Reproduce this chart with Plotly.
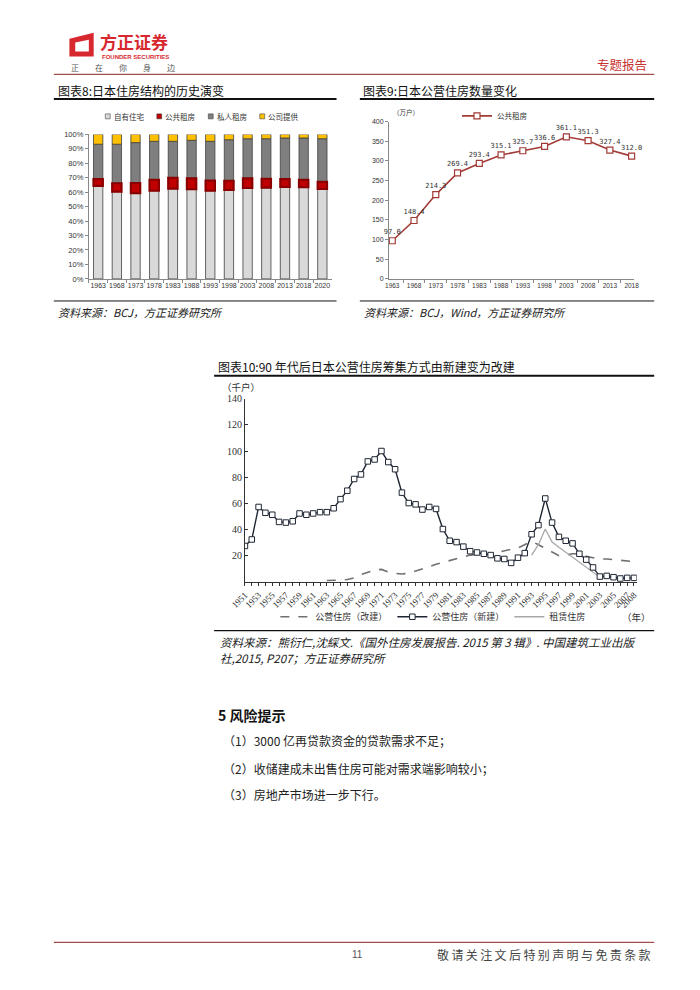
import plotly.graph_objects as go

W, H = 700, 990
def X(px): return px / W
def Y(py): return 1 - py / H

# ---------------- data ----------------
# Chart 8: housing tenure structure (%)
years8 = ['1963', '1968', '1973', '1978', '1983', '1988', '1993', '1998', '2003', '2008', '2013', '2018', '2020']
own8 = [64.4, 60.4, 59.4, 61.0, 62.4, 62.1, 61.0, 61.6, 62.9, 63.1, 63.6, 63.5, 62.2]
public8 = [4.6, 5.8, 6.9, 7.6, 7.6, 7.5, 7.0, 6.3, 6.7, 6.1, 5.4, 5.0, 5.0]
private8 = [24.2, 27.0, 28.0, 26.6, 25.2, 26.3, 27.2, 28.4, 27.4, 27.8, 28.5, 29.0, 29.8]
company8 = [6.8, 6.8, 5.7, 4.8, 4.8, 4.1, 4.8, 3.7, 3.0, 3.0, 2.5, 2.5, 3.0]
names8 = ['自有住宅', '公共租房', '私人租房', '公司提供']
colors8 = ['#d9d9d9', '#c00000', '#7f7f7f', '#ffc000']

# Chart 9: public rental housing stock (10k units)
years9 = ['1963', '1968', '1973', '1978', '1983', '1988', '1993', '1998', '2003', '2008', '2013', '2018']
public9 = [97.0, 148.4, 214.3, 269.4, 293.4, 315.1, 325.7, 336.6, 361.1, 351.3, 327.4, 312.0]

# Chart 10: public housing supply (thousand units)
years_new = list(range(1951, 2009))
new10 = [27, 32, 57, 52.5, 51, 45.5, 45, 46, 52, 51, 52, 53, 53, 56, 63, 69.5, 78.5, 82, 92, 93.5,
         100, 91.5, 86, 68, 60, 59, 55, 57, 55.5, 40, 31, 30, 26.5, 23, 22, 21, 20, 17.5, 17, 14,
         18, 21.5, 36, 43, 63.5, 45, 34, 31, 29, 21, 16.5, 10.5, 3.5, 4, 3, 2, 2.5, 2.5]
years_rebuild = list(range(1963, 2009))
rebuild10 = [0.5, 0.5, 0.8, 1.2, 2.5, 5, 7, 8.5, 9, 7, 6, 5.5, 6, 7.5, 9, 11, 13, 14.5, 16, 17.5,
             19, 20, 20.5, 20.5, 21, 22, 23.5, 24.5, 25.5, 28, 30.5, 28, 25, 22, 19.5, 20, 21, 21,
             19, 18, 17, 17, 16.5, 16.5, 16, 15]
years_rent = list(range(1993, 2009))
rent10 = [20, 28, 40, 30, 26, 22.2, 18.3, 14.4, 10.5, 6.5, 3, 3, 2.5, 2, 2, 2]
xticks10 = list(range(1951, 2008, 2)) + [2008]

CJK = 'Noto Sans CJK SC'

fig = go.Figure()

# ---------------- chart 8 (stacked with explicit bases) ----------------
base_own = [0] * len(own8)
base_pub = own8
base_priv = [a + b for a, b in zip(own8, public8)]
base_comp = [a + b + c for a, b, c in zip(own8, public8, private8)]
series8 = [(own8, base_own, 0, '#404040', 0.8),
           (private8, base_priv, 2, '#404040', 0.8),
           (company8, base_comp, 3, '#404040', 0.8),
           (public8, base_pub, 1, '#8a0000', 2.2)]
for vals, base, idx, lc, lw in series8:
    fig.add_bar(x=years8, y=vals, base=base, name=names8[idx],
                marker=dict(color=colors8[idx], line=dict(color=lc, width=lw)),
                xaxis='x', yaxis='y', showlegend=False, width=0.5)

# ---------------- chart 9 ----------------
red9 = '#a23b36'
fig.add_scatter(x=years9, y=public9, mode='lines+markers+text',
                text=[f'{v:.1f}' for v in public9], textposition='top center',
                textfont=dict(family='DejaVu Sans Mono', size=7, color='#333'),
                line=dict(color=red9, width=1.6),
                marker=dict(symbol='square', size=6, color='white', line=dict(color=red9, width=1.2)),
                xaxis='x2', yaxis='y2', name='公共租房', legend='legend2', cliponaxis=False)

# ---------------- chart 10 ----------------
fig.add_scatter(x=years_rebuild, y=rebuild10, mode='lines', name='公营住房（改建）',
                line=dict(color='#707070', width=1.6, dash='dash'),
                xaxis='x3', yaxis='y3', legend='legend3', legendrank=1)
fig.add_scatter(x=years_rent, y=rent10, mode='lines', name='租赁住房',
                line=dict(color='#a8a8a8', width=1.3),
                xaxis='x3', yaxis='y3', legend='legend3', legendrank=3)
fig.add_scatter(x=years_new, y=new10, mode='lines+markers', name='公营住房（新建）',
                line=dict(color='#1e2633', width=1.4),
                marker=dict(symbol='square', size=5.5, color='white', line=dict(color='#1e2633', width=1)),
                xaxis='x3', yaxis='y3', legend='legend3', legendrank=2)

axis_common = dict(showgrid=False, zeroline=False, showline=True)

fig.update_layout(
    width=W, height=H, margin=dict(l=0, r=0, t=0, b=0),
    paper_bgcolor='white', plot_bgcolor='white',
    barmode='overlay',
    font=dict(family=CJK, color='#222'),
    xaxis=dict(domain=[X(76), X(326)], anchor='y', type='category', linecolor='#888',
               ticks='outside', tickson='boundaries', ticklen=3, tickcolor='#888', tickangle=0,
               tickfont=dict(family='Liberation Sans', size=7, color='#333'), **axis_common),
    yaxis=dict(domain=[Y(276.7), Y(130.7)], anchor='x', range=[0, 100], dtick=10, ticksuffix='%',
               linecolor='#888', ticks='outside', ticklen=3, tickcolor='#888',
               tickfont=dict(family='Liberation Sans', size=7.5, color='#333'), **axis_common),
    xaxis2=dict(domain=[X(385), X(637)], anchor='y2', type='category', range=[-0.15, 11.1],
                linecolor='#888', ticks='outside', tickson='boundaries', ticklen=3, tickcolor='#888',
                tickangle=0,
                tickfont=dict(family='Liberation Sans', size=6.5, color='#333'), **axis_common),
    yaxis2=dict(domain=[Y(276.7), Y(117.7)], anchor='x2', range=[0, 400], dtick=50,
                linecolor='#888', ticks='outside', ticklen=3, tickcolor='#888',
                tickfont=dict(family='Liberation Sans', size=7, color='#333'), **axis_common),
    xaxis3=dict(domain=[X(236.7), X(640)], anchor='y3', range=[1951, 2008.4],
                tickmode='array', tickvals=xticks10, tickangle=-45,
                linecolor='#333', ticks='outside', ticklen=3, tickcolor='#333',
                minor=dict(dtick=1, tick0=1951, ticks='outside', ticklen=3, tickcolor='#333'),
                tickfont=dict(family='Liberation Serif', size=9, color='#333'), **axis_common),
    yaxis3=dict(domain=[Y(583.3), Y(398)], anchor='x3', range=[-1, 140],
                tickmode='array', tickvals=[20, 40, 60, 80, 100, 120, 140],
                linecolor='#333', ticks='inside', ticklen=3, tickcolor='#333',
                tickfont=dict(family='Liberation Serif', size=10, color='#333'), **axis_common),
    legend2=dict(orientation='h', x=X(455), y=Y(112), xanchor='left', yanchor='middle',
                 font=dict(family=CJK, size=7.5, color='#333'), itemwidth=30,
                 bgcolor='rgba(0,0,0,0)'),
    legend3=dict(orientation='h', x=X(268), y=Y(618), xanchor='left', yanchor='middle',
                 font=dict(family=CJK, size=9, color='#333'), itemwidth=30,
                 bgcolor='rgba(0,0,0,0)'),
)

shapes = []
annos = []

def hline(x0, x1, y, color='#111', width=1.0):
    shapes.append(dict(type='line', xref='paper', yref='paper', x0=X(x0), x1=X(x1), y0=Y(y), y1=Y(y),
                       line=dict(color=color, width=width)))

def text(x, y, s, size=11, color='#222', xanchor='left', family=CJK, yanchor='middle'):
    annos.append(dict(xref='paper', yref='paper', x=X(x), y=Y(y), text=s, showarrow=False,
                      xanchor=xanchor, yanchor=yanchor, font=dict(family=family, size=size, color=color)))

# header
shapes.append(dict(type='path', xref='paper', yref='paper', fillcolor='#d7282f', line=dict(width=0),
                   path=f'M{X(56)},{Y(34)} L{X(81)},{Y(28)} L{X(81)},{Y(52)} L{X(56)},{Y(52)} Z'))
shapes.append(dict(type='path', xref='paper', yref='paper', fillcolor='white', line=dict(width=0),
                   path=f'M{X(62)},{Y(38)} L{X(76)},{Y(35)} L{X(76)},{Y(47)} L{X(62)},{Y(47)} Z'))
text(85, 37, '<b>方正证券</b>', size=17, color='#d7282f')
text(87, 52.5, '<b>FOUNDER SECURITIES</b>', size=6, color='#d7282f', family='Liberation Sans')
text(56, 63, '正\u3000\u3000在\u3000\u3000你\u3000\u3000身\u3000\u3000边', size=8, color='#555')
text(653, 60, '专题报告', size=12.5, color='#c8322e', xanchor='right')
hline(40, 658, 70, color='#a0504c', width=1.2)

# chart 8 header / footer
text(42, 86, '图表8:日本住房结构的历史演变', size=12, color='#111')
hline(40, 331, 95, width=2)
hline(40, 331, 299, width=1)
text(42, 310, '<i>资料来源：BCJ，方正证券研究所</i>', size=11, color='#222')

# chart 8 manual legend
leg_x0, leg_step = 93, 53
for i, (nm, col) in enumerate(zip(names8, colors8)):
    lx = leg_x0 + i * leg_step
    shapes.append(dict(type='rect', xref='paper', yref='paper', x0=X(lx), x1=X(lx + 5),
                       y0=Y(115), y1=Y(110), fillcolor=col, line=dict(color='#444', width=0.6)))
    text(lx + 6.5, 112.5, nm, size=7.5, color='#333')

# chart 9 header / footer
text(356, 86, '图表9:日本公营住房数量变化', size=12, color='#111')
hline(355, 658, 95, width=2)
hline(355, 658, 299, width=1)
text(357, 310, '<i>资料来源：BCJ，Wind，方正证券研究所</i>', size=11, color='#222')
text(387, 108, '（万户）', size=6.5, color='#333')

# chart 10 header / footer
text(207, 365, '图表10:90 年代后日本公营住房筹集方式由新建变为改建', size=12, color='#111')
hline(205, 658, 374.5, width=2)
text(211, 386, '（千户）', size=9.5, color='#333')
text(657, 618, '（年）', size=9.5, color='#333', xanchor='right')
hline(205, 658, 632, width=1.2)
text(209, 643, '<i>资料来源：熊衍仁,沈綵文.《国外住房发展报告. 2015 第 3 辑》. 中国建筑工业出版</i>', size=11.5)
text(209, 660, '<i>社,2015, P207；方正证券研究所</i>', size=11.5)

# body text
text(207, 717, '<b>5 风险提示</b>', size=14, color='#111')
text(212, 743, '（1）3000 亿再贷款资金的贷款需求不足；', size=12)
text(212, 771, '（2）收储建成未出售住房可能对需求端影响较小；', size=12)
text(212, 798, '（3）房地产市场进一步下行。', size=12)

# footer
hline(40, 658, 947, color='#a0504c', width=1.2)
text(345, 959, '11', size=10, color='#555', family='Liberation Sans')
text(657, 959, '\u2009'.join('敬请关注文后特别声明与免责条款'), size=12, color='#444', xanchor='right')

fig.update_layout(shapes=shapes, annotations=annos)
fig.write_html('out.html')
